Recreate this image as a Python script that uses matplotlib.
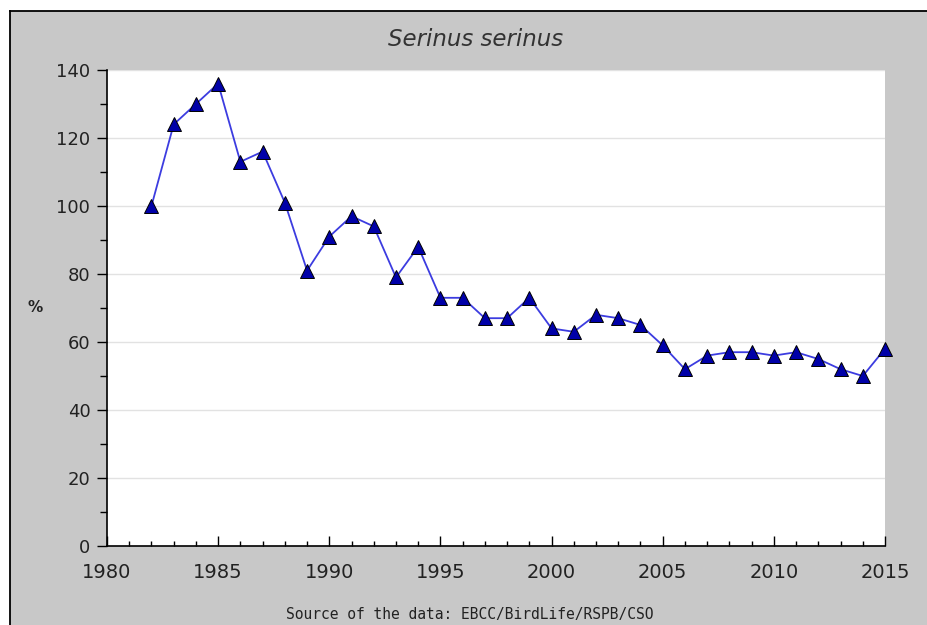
import matplotlib
matplotlib.use("Agg")
import matplotlib.pyplot as plt
from matplotlib.patches import Rectangle
from matplotlib.lines import Line2D
from matplotlib.ticker import MultipleLocator

# Data (index, %)
years = [1982, 1983, 1984, 1985, 1986, 1987, 1988, 1989, 1990, 1991,
         1992, 1993, 1994, 1995, 1996, 1997, 1998, 1999, 2000, 2001,
         2002, 2003, 2004, 2005, 2006, 2007, 2008, 2009, 2010, 2011,
         2012, 2013, 2014, 2015]
index = [100, 124, 130, 136, 113, 116, 101, 81, 91, 97,
         94, 79, 88, 73, 73, 67, 67, 73, 64, 63,
         68, 67, 65, 59, 52, 56, 57, 57, 56, 57,
         55, 52, 50, 58]
x_ticks = [1980, 1985, 1990, 1995, 2000, 2005, 2010, 2015]
y_ticks = [0, 20, 40, 60, 80, 100, 120, 140]

title = "Serinus serinus"
source = "Source of the data: EBCC/BirdLife/RSPB/CSO"

W, H = 928, 625
gray = "#c8c8c8"

fig = plt.figure(figsize=(W / 100, H / 100), dpi=100, facecolor="white")

# grey panel with black border on top and left
fig.patches.append(Rectangle((10 / W, 0), 1 - 10 / W, 1 - 11 / H,
                             transform=fig.transFigure, facecolor=gray,
                             edgecolor="none", zorder=-10))
fig.lines.append(Line2D([10 / W, 1], [1 - 11 / H, 1 - 11 / H],
                        transform=fig.transFigure, color="black", lw=1.3))
fig.lines.append(Line2D([10 / W, 10 / W], [0, 1 - 11 / H],
                        transform=fig.transFigure, color="black", lw=1.3))

ax = fig.add_axes([107 / W, (H - 546) / H, 778 / W, 476 / H])
ax.set_facecolor("white")

ax.plot(years, index, color="#3c3ce0", lw=1.3, marker="^", ms=9.5,
        mfc="#0000a8", mec="black", mew=0.7, zorder=3, clip_on=False)

ax.set_xlim(1980, 2015)
ax.set_ylim(0, 140)
ax.set_xticks(x_ticks)
ax.set_yticks(y_ticks)
ax.xaxis.set_minor_locator(MultipleLocator(1))
ax.yaxis.set_minor_locator(MultipleLocator(10))
ax.grid(axis="y", which="major", color="#e2e2e2", lw=1.0)
ax.set_axisbelow(True)

for s in ["top", "right"]:
    ax.spines[s].set_visible(False)
for s in ["left", "bottom"]:
    ax.spines[s].set_color("black")
    ax.spines[s].set_linewidth(1.2)

ax.tick_params(axis="y", which="major", direction="out", length=7, width=1,
               pad=5, labelsize=13, labelcolor="#222222")
ax.tick_params(axis="y", which="minor", direction="out", length=5, width=1)
ax.tick_params(axis="x", which="major", direction="in", length=7, width=1,
               pad=12, labelsize=14, labelcolor="#222222")
ax.tick_params(axis="x", which="minor", direction="in", length=3.5, width=1)

fig.text(476 / W, 1 - 40 / H, title, ha="center", va="center",
         fontsize=16.5, style="italic", color="#333333")
fig.text(35 / W, 1 - 308 / H, "%", ha="center", va="center",
         fontsize=11, fontweight="bold", color="#222222")
fig.text(470 / W, 1 - 614 / H, source, ha="center", va="center",
         fontsize=10.5, family="DejaVu Sans Mono", color="#222222")

fig.savefig("out.png", dpi=100, facecolor=fig.get_facecolor())
